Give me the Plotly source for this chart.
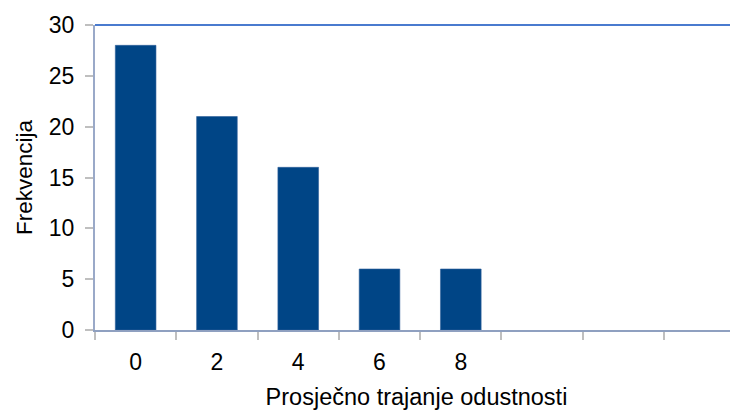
import plotly.graph_objects as go

categories = ["0", "2", "4", "6", "8"]
extra_slots = [" ", "  ", "   "]
values = [28, 21, 16, 6, 6]
y_ticks = [0, 5, 10, 15, 20, 25, 30]

fig = go.Figure()
fig.add_trace(go.Bar(
    x=categories, y=values,
    marker=dict(color="#004586", line=dict(color="#2f5f9a", width=0.6)),
    width=0.5,
))

fig.update_layout(
    width=730, height=402,
    margin=dict(l=87, r=0, t=17, b=80),
    paper_bgcolor="white", plot_bgcolor="white",
    font=dict(family="Liberation Sans, Arial, sans-serif", color="black"),
    showlegend=False,
    xaxis=dict(
        type="category",
        categoryorder="array",
        categoryarray=categories + extra_slots,
        range=[-0.5, 7.41],
        tickson="boundaries",
        ticks="outside", ticklen=8, tickcolor="#bfbfbf", tickwidth=1.5,
        showline=True, linecolor="#8fa0c0", linewidth=2,
        showgrid=False,
        tickfont=dict(size=23),
        ticklabelstandoff=10,
        title=dict(text="Prosječno trajanje odustnosti", font=dict(size=23.5), standoff=17),
    ),
    yaxis=dict(
        range=[0, 30],
        tickvals=y_ticks,
        ticks="outside", ticklen=8, tickcolor="#bfbfbf", tickwidth=1.5,
        showline=True, linecolor="#9aa9c8", linewidth=2,
        showgrid=False, zeroline=False,
        tickfont=dict(size=23),
        ticklabelstandoff=6,
        title=dict(text="Frekvencija", font=dict(size=22.5), standoff=10),
    ),
)

fig.add_shape(type="line", xref="paper", yref="paper", x0=0, x1=1, y0=1, y1=1,
              line=dict(color="#4a7bcf", width=2))

fig.write_html("out.html")
